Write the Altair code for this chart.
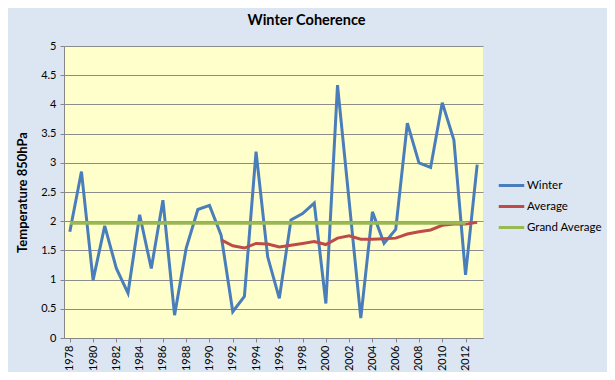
import altair as alt
import pandas as pd

years = list(range(1978, 2014))
winter = [1.82, 2.85, 0.99, 1.92, 1.19, 0.77, 2.11, 1.19, 2.36, 0.39,
          1.54, 2.20, 2.27, 1.76, 0.45, 0.71, 3.19, 1.39, 0.68, 2.02,
          2.13, 2.31, 0.59, 4.33, 2.34, 0.34, 2.16, 1.62, 1.86, 3.68,
          3.00, 2.92, 4.03, 3.39, 1.08, 2.97]
avg_years = list(range(1991, 2014))
average = [1.68, 1.58, 1.54, 1.62, 1.61, 1.56, 1.59, 1.62, 1.65, 1.60,
           1.71, 1.75, 1.69, 1.69, 1.70, 1.71, 1.78, 1.82, 1.85, 1.93,
           1.95, 1.95, 1.98]
grand_years = list(range(1978, 2013))
grand_value = 1.97

series_names = ["Winter", "Average", "Grand Average"]
series_colors = ["#4A7EBB", "#BE4B48", "#98B954"]

df_w = pd.DataFrame({"year": years, "value": winter, "series": "Winter"})
df_a = pd.DataFrame({"year": avg_years, "value": average, "series": "Average"})
df_g = pd.DataFrame({"year": grand_years, "value": [grand_value] * len(grand_years),
                     "series": "Grand Average"})

FONT = "Lato"

x_enc = alt.X("year:Q",
              scale=alt.Scale(domain=[1977.5, 2013.5], nice=False, zero=False),
              axis=alt.Axis(values=list(range(1978, 2013, 2)), format="d",
                            labelAngle=-90, labelAlign="right", labelBaseline="middle",
                            grid=False, title=None, tickSize=4, labelPadding=3,
                            domainColor="#868686", tickColor="#868686",
                            labelFont=FONT, labelFontSize=11, labelColor="#000000"))
y_enc = alt.Y("value:Q",
              scale=alt.Scale(domain=[0, 5], nice=False),
              axis=alt.Axis(values=[i * 0.5 for i in range(11)], format="~g",
                            title="Temperature 850hPa",
                            titleFont=FONT, titleFontSize=13, titleFontWeight="bold",
                            titleColor="#000000", titleX=-42, titleY=146, titleAngle=270,
                            titleAlign="center", titleBaseline="middle",
                            grid=True, gridColor="#8C8C8C", gridWidth=1,
                            domainColor="#868686", tickColor="#868686", tickSize=4,
                            labelFont=FONT, labelFontSize=11, labelColor="#000000",
                            labelPadding=4))
color_enc = alt.Color("series:N",
                      scale=alt.Scale(domain=series_names, range=series_colors),
                      legend=alt.Legend(title=None, orient="none", legendX=433, legendY=125,
                                        symbolType="stroke", symbolSize=650,
                                        symbolStrokeWidth=3, labelFont=FONT,
                                        labelFontSize=11.5, labelColor="#000000",
                                        rowPadding=0, labelOffset=1))

def layer(df, width):
    return alt.Chart(df).mark_line(strokeWidth=width, clip=True).encode(
        x=x_enc, y=y_enc, color=color_enc)

chart = alt.layer(
    layer(df_w, 3),
    layer(df_a, 3),
    layer(df_g, 3.5),
).properties(
    width=419, height=292,
    title=alt.TitleParams("Winter Coherence", font=FONT, fontSize=14.5, fontWeight="bold",
                          color="#000000", anchor="middle", dx=33, offset=12),
    autosize=alt.AutoSizeParams(type="none"),
    padding={"left": 56, "top": 38, "right": 124, "bottom": 34},
).configure(
    background="#DCE6F2",
).configure_view(
    fill="#FFFFCC", stroke=None,
)

chart.save("out.html", embed_options={"renderer": "svg", "actions": False})
